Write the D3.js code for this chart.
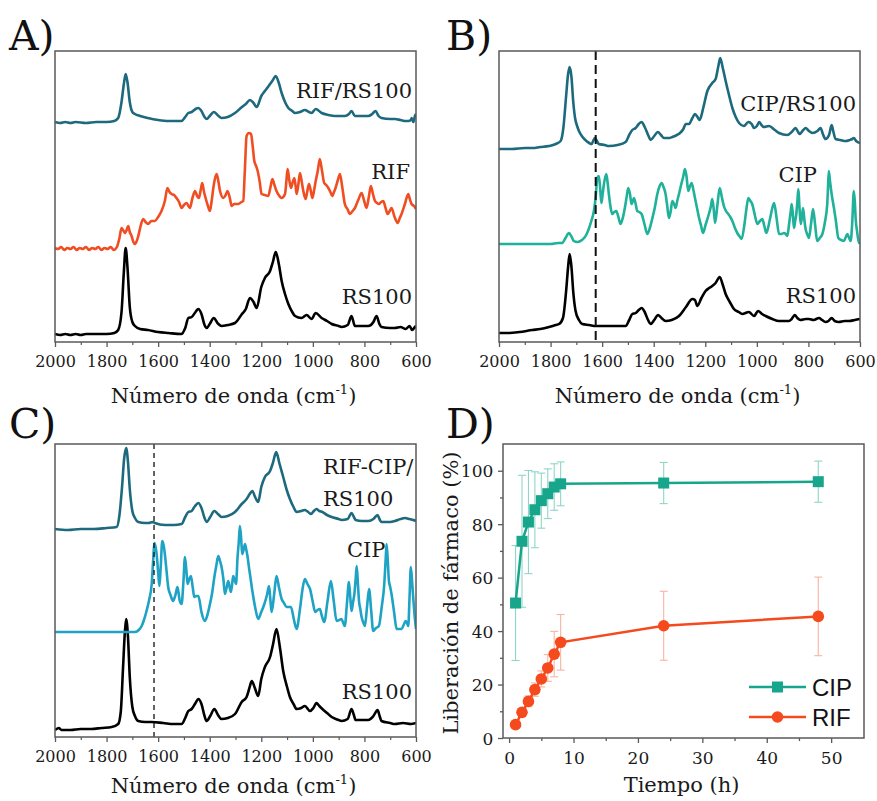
<!DOCTYPE html>
<html><head><meta charset="utf-8">
<script src="https://cdn.jsdelivr.net/npm/d3@7"></script>
<style>
html,body{margin:0;padding:0;background:#fff;}
svg{display:block;}
</style></head>
<body>
<script>
// ---------------- DATA ----------------
const wnTicks = [2000,1800,1600,1400,1200,1000,800,600];
const wnMinor = [1900,1700,1500,1300,1100,900,700];

// Panel A spectra [wavenumber, intensity a.u.]
const A_RS100 = [[2000,8],[1980,7],[1960,8],[1940,7],[1920,8],[1900,7],[1880,8],[1860,8],[1840,8],[1800,8],[1770,9],[1755,12],[1742,30],[1733,70],[1726,94],[1719,75],[1710,35],[1700,20],[1690,16],[1670,13],[1640,12],[1600,10],[1560,9],[1510,8],[1495,14],[1483,24],[1470,25],[1455,30],[1444,33],[1432,28],[1420,17],[1412,14],[1400,18],[1384,24],[1370,19],[1354,16],[1330,17],[1302,19],[1275,28],[1260,33],[1244,44],[1230,40],[1218,34],[1200,55],[1186,64],[1166,71],[1155,80],[1144,90],[1132,78],[1121,61],[1108,48],[1095,38],[1080,30],[1069,26],[1044,24],[1024,27],[1005,23],[989,29],[966,24],[945,21],[927,18],[900,16],[889,15],[865,17],[850,26],[837,16],[810,16],[785,16],[765,20],[753,26],[742,18],[734,15],[700,14],[682,14],[660,15],[640,13],[625,16],[615,12],[604,15],[600,16]];
const A_RIFRS = [[2000,220],[1980,219],[1960,220],[1940,219],[1920,220],[1880,219],[1840,220],[1800,220],[1770,221],[1755,224],[1742,240],[1733,258],[1726,268],[1719,260],[1710,240],[1700,230],[1690,228],[1670,226],[1640,224],[1600,222],[1560,221],[1510,221],[1495,225],[1483,229],[1470,230],[1455,233],[1444,234],[1432,231],[1420,225],[1412,223],[1400,226],[1384,230],[1370,227],[1354,224],[1330,225],[1302,229],[1275,235],[1260,238],[1244,242],[1230,239],[1218,235],[1200,246],[1186,251],[1166,258],[1155,262],[1144,266],[1132,259],[1121,249],[1108,240],[1095,234],[1080,231],[1069,229],[1050,230],[1031,232],[1015,230],[1005,229],[989,233],[966,229],[940,227],[914,226],[876,226],[860,228],[850,231],[837,226],[810,226],[785,226],[770,228],[757,231],[745,226],[734,224],[700,223],[682,223],[660,222],[640,221],[630,221],[620,222],[617,224],[610,220],[604,226],[600,228]];
const A_RIF = [[2000,94],[1988,93],[1976,95],[1964,92],[1952,94],[1940,93],[1928,95],[1916,92],[1904,94],[1892,93],[1880,95],[1868,92],[1856,94],[1844,93],[1832,95],[1820,92],[1808,94],[1796,93],[1784,95],[1772,92],[1760,95],[1750,104],[1742,114],[1736,112],[1729,109],[1722,112],[1716,116],[1710,110],[1703,106],[1696,100],[1690,98],[1683,101],[1677,106],[1668,116],[1658,123],[1649,120],[1639,118],[1626,121],[1613,121],[1600,125],[1587,131],[1574,141],[1564,154],[1556,150],[1548,148],[1538,147],[1529,144],[1519,140],[1509,134],[1500,137],[1490,139],[1477,134],[1467,144],[1457,151],[1449,146],[1442,144],[1435,152],[1429,159],[1422,150],[1416,144],[1408,137],[1399,131],[1392,142],[1386,154],[1379,164],[1373,168],[1366,160],[1360,151],[1347,144],[1338,147],[1331,151],[1322,144],[1315,136],[1305,138],[1289,138],[1277,140],[1270,141],[1264,170],[1257,206],[1248,209],[1240,208],[1233,195],[1227,181],[1220,176],[1214,171],[1206,160],[1199,148],[1186,147],[1173,146],[1165,154],[1157,163],[1149,157],[1141,151],[1130,146],[1121,144],[1108,148],[1103,160],[1098,173],[1092,163],[1085,154],[1078,160],[1072,164],[1067,156],[1063,148],[1056,158],[1050,169],[1043,160],[1037,151],[1028,143],[1022,150],[1015,158],[1008,151],[1002,144],[995,152],[989,161],[981,171],[973,183],[965,172],[956,159],[948,157],[940,154],[932,150],[925,146],[918,150],[912,154],[903,162],[895,168],[886,155],[876,138],[866,133],[856,128],[846,131],[837,134],[824,142],[811,149],[802,142],[792,134],[783,145],[775,156],[767,148],[759,141],[751,139],[744,138],[735,140],[727,141],[718,134],[710,128],[702,131],[695,134],[683,125],[671,119],[663,124],[656,128],[643,138],[630,148],[624,143],[617,138],[608,136],[600,133]];

// Panel B spectra
const B_RS100 = [[2000,9],[1960,9],[1920,10],[1871,12],[1840,13],[1806,15],[1780,17],[1767,18],[1752,24],[1740,50],[1732,75],[1726,88],[1719,75],[1712,50],[1703,31],[1690,22],[1677,18],[1650,17],[1625,16],[1580,16],[1540,16],[1509,16],[1495,22],[1483,28],[1470,29],[1458,32],[1447,34],[1435,30],[1422,22],[1412,18],[1398,22],[1384,27],[1370,24],[1354,21],[1330,22],[1302,26],[1275,35],[1250,43],[1240,42],[1231,36],[1215,44],[1199,51],[1185,54],[1173,56],[1160,59],[1144,65],[1132,57],[1121,48],[1105,40],[1089,33],[1070,30],[1057,28],[1031,30],[1011,26],[995,31],[980,28],[966,26],[940,23],[914,21],[876,21],[865,23],[853,27],[843,24],[831,22],[810,23],[798,23],[780,22],[759,24],[747,22],[734,20],[722,21],[710,24],[698,21],[682,20],[660,21],[643,21],[620,22],[600,23]];
const B_CIPRS = [[2000,193],[1950,193],[1900,194],[1871,194],[1840,195],[1806,196],[1780,198],[1761,201],[1750,215],[1740,245],[1732,268],[1726,275],[1719,265],[1712,240],[1705,224],[1697,216],[1690,211],[1676,205],[1661,201],[1650,199],[1641,198],[1633,202],[1628,204],[1620,201],[1613,198],[1590,197],[1574,196],[1540,197],[1509,200],[1495,207],[1483,212],[1470,214],[1458,218],[1447,220],[1435,215],[1420,206],[1412,202],[1398,206],[1384,210],[1372,207],[1360,204],[1340,204],[1328,205],[1310,207],[1298,209],[1285,213],[1276,218],[1263,218],[1250,224],[1240,228],[1230,225],[1222,222],[1208,234],[1192,251],[1173,259],[1160,263],[1150,275],[1142,284],[1133,275],[1121,261],[1108,247],[1095,234],[1082,225],[1069,219],[1050,216],[1033,220],[1020,218],[1011,214],[1000,216],[991,220],[982,217],[973,215],[953,216],[930,212],[914,209],[882,207],[865,210],[850,214],[840,210],[834,208],[820,212],[811,214],[798,211],[785,209],[765,211],[753,214],[744,208],[734,203],[720,207],[710,217],[703,210],[695,203],[676,202],[656,201],[640,202],[630,203],[624,204],[615,201],[600,199]];
const B_CIP = [[2000,98],[1950,98],[1900,98],[1850,98],[1800,98],[1770,99],[1755,99],[1742,104],[1729,109],[1718,105],[1710,101],[1697,100],[1684,101],[1670,104],[1660,108],[1652,113],[1642,121],[1632,131],[1625,145],[1619,164],[1613,166],[1608,155],[1603,139],[1598,148],[1593,158],[1584,168],[1579,160],[1574,148],[1568,136],[1561,128],[1553,130],[1545,131],[1537,125],[1529,118],[1520,124],[1512,134],[1505,145],[1499,154],[1492,148],[1486,138],[1481,141],[1477,144],[1470,138],[1464,131],[1456,130],[1447,128],[1436,118],[1425,108],[1415,114],[1406,123],[1396,134],[1386,148],[1377,156],[1369,159],[1362,155],[1354,148],[1348,137],[1341,124],[1334,131],[1328,141],[1321,138],[1315,134],[1308,142],[1302,148],[1292,159],[1285,166],[1279,173],[1273,166],[1266,151],[1259,156],[1253,159],[1246,152],[1240,144],[1232,134],[1224,124],[1216,116],[1209,109],[1198,118],[1186,128],[1178,136],[1173,143],[1167,132],[1162,119],[1153,137],[1144,154],[1136,145],[1128,136],[1120,131],[1111,128],[1103,125],[1095,121],[1085,114],[1076,109],[1068,106],[1059,103],[1048,118],[1040,134],[1033,144],[1025,141],[1018,138],[1008,127],[998,118],[988,121],[979,123],[971,116],[963,109],[950,122],[940,134],[933,139],[924,125],[914,108],[905,108],[895,109],[888,108],[882,106],[875,118],[868,132],[865,138],[860,126],[856,114],[852,120],[847,128],[843,140],[839,153],[835,136],[830,118],[825,125],[821,134],[816,123],[811,113],[805,108],[798,104],[790,118],[782,133],[774,117],[766,101],[756,104],[746,108],[736,120],[727,138],[724,155],[721,171],[716,160],[710,148],[705,140],[701,134],[693,120],[684,104],[673,102],[662,101],[655,105],[649,108],[642,104],[636,101],[630,120],[624,151],[620,140],[617,124],[611,110],[604,99],[600,99]];

// Panel C spectra
const C_RS100 = [[2000,7],[1985,9],[1975,7],[1940,7],[1900,8],[1860,8],[1820,9],[1780,10],[1755,13],[1745,25],[1736,70],[1729,105],[1724,118],[1717,100],[1710,60],[1700,30],[1690,21],[1677,16],[1650,15],[1625,15],[1580,14],[1540,13],[1509,13],[1495,19],[1483,26],[1470,28],[1455,34],[1444,38],[1432,33],[1420,21],[1412,16],[1398,21],[1382,28],[1368,22],[1354,18],[1330,19],[1302,23],[1276,35],[1257,40],[1245,50],[1237,56],[1225,49],[1212,41],[1200,58],[1186,70],[1166,80],[1155,92],[1141,108],[1128,90],[1115,66],[1100,50],[1089,40],[1075,33],[1063,28],[1045,29],[1031,31],[1011,26],[998,29],[986,34],[975,31],[963,28],[945,24],[927,20],[900,17],[889,16],[865,18],[850,28],[841,22],[834,17],[810,17],[785,17],[765,21],[749,27],[740,20],[734,16],[700,14],[682,13],[650,14],[620,13],[600,14]];
const C_RCR = [[2000,208],[1950,207],[1900,208],[1850,208],[1800,209],[1761,210],[1750,222],[1740,250],[1732,278],[1724,289],[1717,275],[1710,248],[1700,226],[1690,219],[1677,215],[1650,214],[1638,214],[1620,215],[1613,214],[1574,212],[1540,212],[1509,213],[1495,220],[1483,225],[1470,226],[1457,231],[1444,234],[1432,229],[1420,219],[1412,215],[1398,220],[1382,226],[1368,223],[1354,220],[1330,221],[1302,225],[1276,233],[1257,238],[1245,243],[1235,246],[1224,240],[1212,235],[1200,250],[1186,260],[1166,266],[1155,274],[1142,285],[1130,274],[1115,260],[1100,246],[1089,238],[1075,230],[1063,225],[1045,226],[1031,227],[1018,225],[1007,223],[996,226],[986,228],[975,226],[963,225],[945,222],[927,220],[900,218],[889,217],[865,218],[850,224],[841,220],[834,217],[810,216],[785,216],[765,218],[749,222],[740,217],[734,215],[700,215],[682,216],[660,218],[643,219],[625,218],[610,217],[600,216]];
const C_CIP = [[2000,105],[1950,105],[1900,105],[1850,105],[1800,105],[1750,105],[1720,105],[1690,105],[1675,107],[1664,111],[1655,117],[1645,126],[1635,137],[1625,153],[1619,178],[1615,194],[1610,190],[1606,183],[1600,165],[1595,151],[1590,170],[1584,196],[1579,192],[1574,183],[1567,165],[1561,150],[1552,142],[1542,136],[1533,142],[1525,150],[1516,136],[1509,133],[1502,155],[1496,180],[1490,165],[1486,153],[1479,158],[1473,161],[1466,150],[1460,140],[1452,141],[1444,141],[1432,125],[1419,116],[1409,122],[1399,133],[1390,145],[1382,160],[1374,172],[1367,181],[1360,176],[1354,170],[1347,158],[1341,143],[1334,150],[1328,156],[1323,150],[1318,145],[1313,153],[1309,161],[1303,157],[1298,153],[1292,180],[1287,196],[1283,211],[1278,198],[1274,183],[1268,188],[1263,193],[1258,187],[1253,180],[1248,170],[1244,163],[1234,145],[1224,130],[1212,118],[1200,125],[1188,133],[1178,142],[1170,151],[1165,138],[1160,125],[1150,143],[1141,161],[1131,149],[1121,138],[1112,134],[1102,130],[1093,130],[1085,130],[1074,118],[1063,108],[1050,128],[1040,148],[1031,158],[1021,153],[1011,148],[1001,136],[991,125],[982,127],[973,128],[965,121],[956,115],[943,136],[930,156],[919,136],[908,116],[898,117],[889,118],[882,114],[876,111],[868,133],[860,155],[855,140],[850,126],[844,135],[839,143],[834,158],[830,171],[825,152],[821,136],[816,128],[811,120],[805,115],[798,111],[790,130],[782,148],[774,127],[766,106],[755,109],[744,111],[733,130],[723,153],[718,176],[714,193],[709,174],[705,156],[700,150],[695,143],[685,125],[675,108],[665,108],[656,108],[648,112],[640,116],[635,114],[630,111],[625,140],[620,170],[615,155],[611,140],[606,123],[600,108]];

// Panel D release data
const timeH = [1,2,3,4,5,6,7,8,24,48];
const cipRel = [50.5,73.6,80.8,85.4,88.8,91.4,93.9,95.1,95.4,95.9];
const cipErr = [21.5,24.7,19.3,14.2,10.3,9.3,8.7,8.2,7.7,7.7];
const rifRel = [5.0,9.6,13.7,18.1,22.1,26.2,31.4,35.8,42.0,45.5];
const rifErr = [1.0,1.5,2.0,2.5,3.0,5.0,8.5,10.4,12.9,14.7];
const dXTicks = [0,10,20,30,40,50];
const dYTicks = [0,20,40,60,80,100];

// ---------------- DRAW ----------------
const W = 877, H = 801;
const svg = d3.select("body").append("svg").attr("width", W).attr("height", H);
svg.append("rect").attr("width", W).attr("height", H).attr("fill", "#fff");

const SERIF = "'DejaVu Serif', serif";
const SANS = "'Liberation Sans', Arial, sans-serif";
const FRAME = "#5a5a5a";

function panelLabel(txt, x, y) {
  svg.append("text").attr("x", x).attr("y", y).text(txt)
    .attr("font-family", SERIF).attr("font-size", 41).attr("fill", "#111");
}

function spectraPanel(id, box, ymax, series, labels, dash) {
  const {l, r, t, b} = box;
  const x = d3.scaleLinear().domain([2000, 600]).range([l, r]);
  const y = d3.scaleLinear().domain([0, ymax]).range([b, t]);
  const g = svg.append("g");
  g.append("clipPath").attr("id", "clip" + id).append("rect")
    .attr("x", l).attr("y", t).attr("width", r - l).attr("height", b - t);

  const ax = d3.axisBottom(x).tickValues(wnTicks).tickSize(5).tickSizeOuter(0).tickFormat(d3.format("d"));
  const axG = g.append("g").attr("transform", `translate(0,${b})`).call(ax);
  axG.select(".domain").remove();
  axG.selectAll("line").attr("stroke", FRAME).attr("stroke-width", 1.3);
  axG.selectAll("text").attr("font-family", SERIF).attr("font-size", 16).attr("fill", "#1a1a1a").attr("dy", "1.05em");
  const axm = d3.axisBottom(x).tickValues(wnMinor).tickSize(3).tickFormat("");
  const amG = g.append("g").attr("transform", `translate(0,${b})`).call(axm);
  amG.select(".domain").remove();
  amG.selectAll("line").attr("stroke", FRAME).attr("stroke-width", 1.2);

  const line = d3.line().x(d => x(d[0])).y(d => y(d[1])).curve(d3.curveMonotoneX);
  const sg = g.append("g").attr("clip-path", `url(#clip${id})`);
  series.forEach(s => {
    sg.append("path").datum(s.data).attr("d", line).attr("fill", "none")
      .attr("stroke", s.color).attr("stroke-width", 2.6).attr("stroke-linejoin", "round");
  });
  if (dash) {
    sg.append("line").attr("x1", x(dash.wn)).attr("x2", x(dash.wn)).attr("y1", t).attr("y2", b)
      .attr("stroke", "#111").attr("stroke-width", dash.w).attr("stroke-dasharray", dash.pattern);
  }
  g.append("rect").attr("x", l).attr("y", t).attr("width", r - l).attr("height", b - t)
    .attr("fill", "none").attr("stroke", FRAME).attr("stroke-width", 1.5);

  labels.forEach(lb => {
    g.append("text").attr("x", lb.x).attr("y", lb.y).attr("text-anchor", lb.anchor || "end")
      .attr("font-family", SERIF).attr("font-size", 21).attr("fill", "#1a1a1a").text(lb.text);
  });
  const tt = g.append("text").attr("x", (l + r) / 2 - 2).attr("y", box.titleY).attr("text-anchor", "middle")
    .attr("font-family", SERIF).attr("font-size", 21).attr("fill", "#1a1a1a");
  tt.append("tspan").text("Número de onda (cm");
  tt.append("tspan").attr("dy", -9).attr("font-size", 13).text("-1");
  tt.append("tspan").attr("dy", 9).text(")");
}

const COL_DARK = "#1d6a7e", COL_RIF = "#f04d22", COL_CIPG = "#1fb19a", COL_CIPB = "#1ea3c4";

panelLabel("A)", 9, 50);
spectraPanel("A", {l: 55, r: 416, t: 51, b: 342, titleY: 403}, 291,
  [{data: A_RS100, color: "#000"}, {data: A_RIF, color: COL_RIF}, {data: A_RIFRS, color: COL_DARK}],
  [{text: "RIF/RS100", x: 412, y: 98}, {text: "RIF", x: 410, y: 179}, {text: "RS100", x: 412, y: 304}], null);

panelLabel("B)", 446, 50);
spectraPanel("B", {l: 499, r: 860, t: 51, b: 342, titleY: 403}, 291,
  [{data: B_RS100, color: "#000"}, {data: B_CIP, color: COL_CIPG}, {data: B_CIPRS, color: COL_DARK}],
  [{text: "CIP/RS100", x: 856, y: 111}, {text: "CIP", x: 817, y: 182}, {text: "RS100", x: 856, y: 303}],
  {wn: 1625, w: 2, pattern: "9,5"});

panelLabel("C)", 9, 438);
spectraPanel("C", {l: 55, r: 416, t: 444, b: 737, titleY: 793}, 293,
  [{data: C_RS100, color: "#000"}, {data: C_CIP, color: COL_CIPB}, {data: C_RCR, color: COL_DARK}],
  [{text: "RIF-CIP/", x: 323, y: 474, anchor: "start"}, {text: "RS100", x: 323, y: 506, anchor: "start"},
   {text: "CIP", x: 347, y: 557, anchor: "start"}, {text: "RS100", x: 412, y: 699}],
  {wn: 1616, w: 1.3, pattern: "5,4"});

// ---------- Panel D ----------
panelLabel("D)", 446, 438);
(function () {
  const l = 503, r = 864, t = 444, b = 738;
  const x = d3.scaleLinear().domain([-0.95, 55.1]).range([l, r]);
  const y = d3.scaleLinear().domain([0, 110]).range([b, t]);
  const g = svg.append("g");

  const xa = g.append("g").attr("transform", `translate(0,${b})`)
    .call(d3.axisBottom(x).tickValues(dXTicks).tickSize(5).tickSizeOuter(0));
  xa.select(".domain").remove();
  const xm = g.append("g").attr("transform", `translate(0,${b})`)
    .call(d3.axisBottom(x).tickValues([5,15,25,35,45]).tickSize(3).tickFormat(""));
  xm.select(".domain").remove();
  const ya = g.append("g").attr("transform", `translate(${l},0)`)
    .call(d3.axisLeft(y).tickValues(dYTicks).tickSize(5).tickSizeOuter(0));
  ya.select(".domain").remove();
  const ym = g.append("g").attr("transform", `translate(${l},0)`)
    .call(d3.axisLeft(y).tickValues([10,30,50,70,90]).tickSize(3).tickFormat(""));
  ym.select(".domain").remove();
  g.selectAll(".tick line").attr("stroke", FRAME).attr("stroke-width", 1.3);
  xa.selectAll("text").attr("font-family", SERIF).attr("font-size", 17).attr("fill", "#1a1a1a").attr("dy", "1.05em");
  ya.selectAll("text").attr("font-family", SERIF).attr("font-size", 17).attr("fill", "#1a1a1a").attr("dx", "-0.1em").attr("dy", "0.36em");

  g.append("rect").attr("x", l).attr("y", t).attr("width", r - l).attr("height", b - t)
    .attr("fill", "none").attr("stroke", FRAME).attr("stroke-width", 1.5);

  const sets = [
    {v: cipRel, e: cipErr, color: "#17a68c", errColor: "#8fd6c8", shape: "square"},
    {v: rifRel, e: rifErr, color: "#f44a1d", errColor: "#f9b4a0", shape: "circle"}
  ];
  sets.forEach(s => {
    const eg = g.append("g");
    timeH.forEach((tm, i) => {
      const cx = x(tm), y1 = y(s.v[i] + s.e[i]), y0 = y(s.v[i] - s.e[i]);
      eg.append("line").attr("x1", cx).attr("x2", cx).attr("y1", y1).attr("y2", y0).attr("stroke", s.errColor).attr("stroke-width", 1.1);
      eg.append("line").attr("x1", cx - 4).attr("x2", cx + 4).attr("y1", y1).attr("y2", y1).attr("stroke", s.errColor).attr("stroke-width", 1.1);
      eg.append("line").attr("x1", cx - 4).attr("x2", cx + 4).attr("y1", y0).attr("y2", y0).attr("stroke", s.errColor).attr("stroke-width", 1.1);
    });
  });
  sets.forEach(s => {
    const pts = timeH.map((tm, i) => [tm, s.v[i]]);
    g.append("path").datum(pts).attr("d", d3.line().x(d => x(d[0])).y(d => y(d[1])))
      .attr("fill", "none").attr("stroke", s.color).attr("stroke-width", 2.5);
    pts.forEach(p => {
      if (s.shape === "square") {
        g.append("rect").attr("x", x(p[0]) - 5.5).attr("y", y(p[1]) - 5.5).attr("width", 11).attr("height", 11).attr("fill", s.color);
      } else {
        g.append("circle").attr("cx", x(p[0])).attr("cy", y(p[1])).attr("r", 5.8).attr("fill", s.color);
      }
    });
  });

  const leg = [{name: "CIP", color: "#17a68c", shape: "square", y: 687}, {name: "RIF", color: "#f44a1d", shape: "circle", y: 717}];
  leg.forEach(d => {
    g.append("line").attr("x1", 749).attr("x2", 806).attr("y1", d.y).attr("y2", d.y).attr("stroke", d.color).attr("stroke-width", 2.5);
    if (d.shape === "square") g.append("rect").attr("x", 772).attr("y", d.y - 5.5).attr("width", 11).attr("height", 11).attr("fill", d.color);
    else g.append("circle").attr("cx", 777.5).attr("cy", d.y).attr("r", 5.8).attr("fill", d.color);
    g.append("text").attr("x", 812).attr("y", d.y + 8.5).text(d.name)
      .attr("font-family", SANS).attr("font-size", 24).attr("fill", "#111");
  });

  g.append("text").attr("x", (l + r) / 2 - 2).attr("y", 792).attr("text-anchor", "middle")
    .attr("font-family", SERIF).attr("font-size", 21).attr("fill", "#1a1a1a").text("Tiempo (h)");
  g.append("text").attr("transform", `translate(458,${(t + b) / 2 + 2}) rotate(-90)`).attr("text-anchor", "middle")
    .attr("font-family", SERIF).attr("font-size", 21).attr("fill", "#1a1a1a").text("Liberación de fármaco (%)");
})();
</script>
</body></html>
